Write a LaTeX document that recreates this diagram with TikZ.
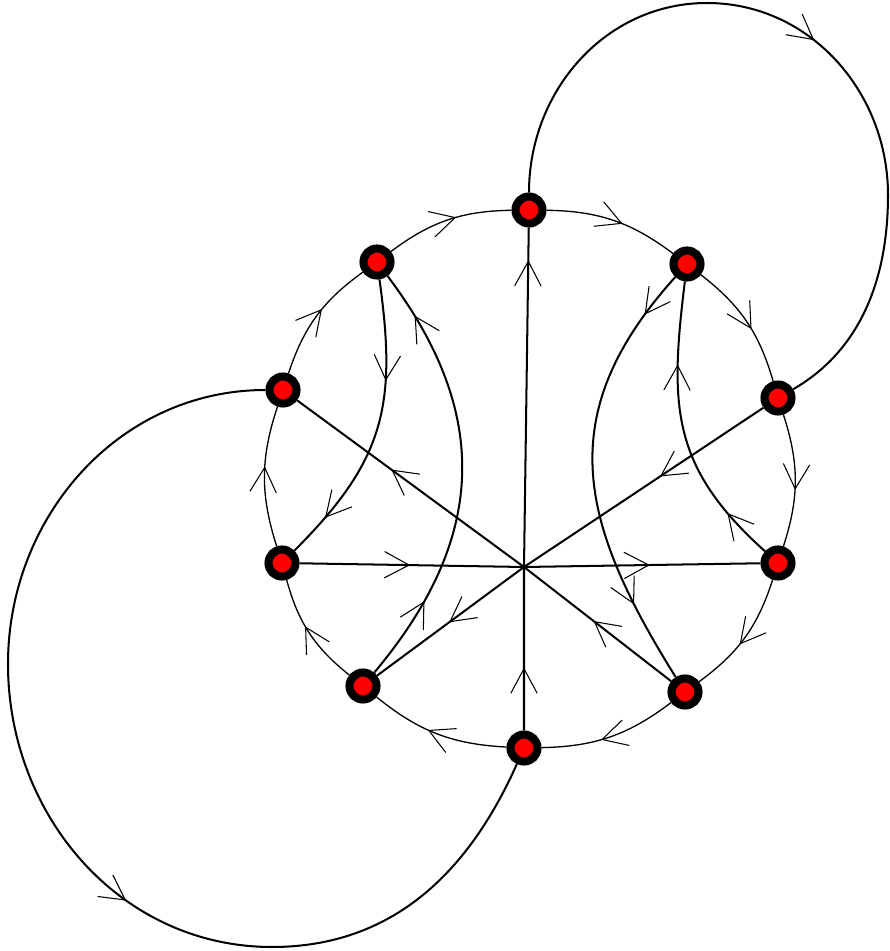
\documentclass[tikz,border=0pt]{standalone}
\usetikzlibrary{arrows.meta,decorations.markings}
\begin{document}
\begin{tikzpicture}[
  x=0.02cm, y=0.02cm,
  barb/.tip={Straight Barb[length=14pt,width=15pt,line width=0.6pt]},
  vtx/.style={circle, draw=black, fill=red, line width=4.6pt, minimum size=0.54cm, inner sep=0pt},
  rim/.style={line width=0.75pt},
  link/.style={line width=1.15pt},
  mk/.style={postaction={decorate}, decoration={markings, mark=at position #1 with {\arrow{barb}}}},
  mktwo/.style 2 args={postaction={decorate}, decoration={markings,
      mark=at position #1 with {\arrow{barb}}, mark=at position #2 with {\arrow{barb}}}}
]
  \useasboundingbox (0,0) rectangle (890,951);

  % vertices on the disc
  \node[vtx] (t)  at (529,741) {};
  \node[vtx] (ur) at (687,687) {};
  \node[vtx] (ru) at (778,553) {};
  \node[vtx] (r)  at (778,388) {};
  \node[vtx] (lr) at (685,259) {};
  \node[vtx] (b)  at (524,203) {};
  \node[vtx] (ll) at (363,265) {};
  \node[vtx] (l)  at (282,388) {};
  \node[vtx] (lu) at (283,561) {};
  \node[vtx] (ul) at (377,689) {};

  % crossing point and loop way points
  \coordinate (hub) at (524,384);
  \coordinate (pk) at (707,948);
  \coordinate (rt) at (888,756);
  \coordinate (lw) at (8,287);
  \coordinate (ls) at (272,4);

  % rim
  \foreach \a/\b in {t/ur, ur/ru, ru/r, r/lr, lr/b, b/ll, ll/l, l/lu, lu/ul, ul/t}
    \draw[rim, mk=0.57] (\a) to[bend left=18] (\b);

  % spokes through the hub
  \draw[link, mktwo={0.125}{0.935}] (b) -- (hub) -- (t);
  \draw[link, mktwo={0.24}{0.76}] (l) -- (hub) -- (r);
  \draw[link, mktwo={0.21}{0.75}] (lr) -- (hub) -- (lu);
  \draw[link, mktwo={0.264}{0.81}] (ru) -- (hub) -- (ll);

  % inner chords
  \draw[link, mktwo={0.34}{0.85}] (ul) to[out=-82, in=45, looseness=1.15] (l);
  \draw[link, mktwo={0.2}{0.89}] (ll) to[out=50, in=-53, looseness=1.12] (ul);
  \draw[link, mktwo={0.18}{0.72}] (r) to[out=138, in=-97, looseness=1.15] (ur);
  \draw[link, mktwo={0.11}{0.81}] (ur) to[out=-132, in=122, looseness=1.18] (lr);

  % outer loops
  \draw[link, mk=0.5] (t) to[out=90, in=180] (pk) to[out=0, in=90] (rt)
    to[out=-90, in=30, looseness=0.95] (ru);
  \draw[link, mk=0.59] (lu) to[out=180, in=90] (lw) to[out=-90, in=180] (ls)
    to[out=0, in=-114] (b);
\end{tikzpicture}
\end{document}
